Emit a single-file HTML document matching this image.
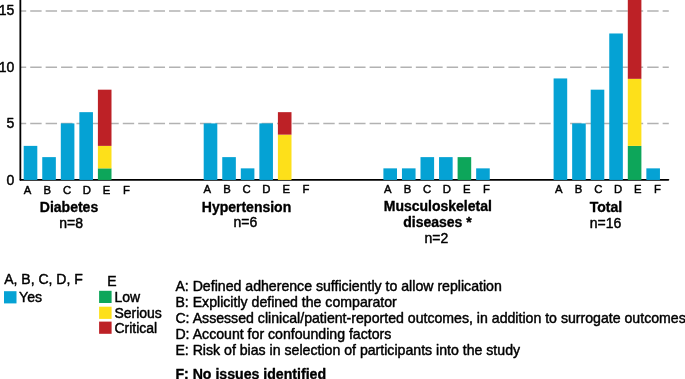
<!DOCTYPE html>
<html><head><meta charset="utf-8"><title>Figure</title>
<style>
html,body{margin:0;padding:0;background:#fff;}
body{width:685px;height:379px;overflow:hidden;}
svg{display:block;will-change:transform;}
text{font-family:"Liberation Sans",Arial,Helvetica,sans-serif;fill:#000;stroke:#000;stroke-width:0.45px;stroke-linejoin:round;}
.b{font-weight:bold;stroke-width:0.35px;}
.s{stroke-width:0.45px;}
</style></head><body>
<svg width="685" height="379" viewBox="0 0 685 379">
<rect width="685" height="379" fill="#fff"/>
<line x1="20.3" x2="668.8" y1="123.40" y2="123.40" stroke="#b2b2b2" stroke-width="1.5" stroke-dasharray="11.4 4.025" stroke-dashoffset="5.50"/>
<line x1="20.3" x2="668.8" y1="67.20" y2="67.20" stroke="#b2b2b2" stroke-width="1.5" stroke-dasharray="11.4 4.025" stroke-dashoffset="5.50"/>
<line x1="20.3" x2="668.8" y1="11.00" y2="11.00" stroke="#b2b2b2" stroke-width="1.5" stroke-dasharray="11.4 4.025" stroke-dashoffset="5.50"/>
<line x1="20.35" x2="20.35" y1="-2" y2="179.85" stroke="#000" stroke-width="1.8" stroke-linecap="round"/>
<line x1="20.35" x2="668.5" y1="179.85" y2="179.85" stroke="#000" stroke-width="1.6" stroke-linecap="round"/>
<rect x="23.70" y="145.88" width="13.6" height="34.07" fill="#05a2d4"/>
<rect x="42.25" y="157.12" width="13.6" height="22.83" fill="#05a2d4"/>
<rect x="60.80" y="123.40" width="13.6" height="56.55" fill="#05a2d4"/>
<rect x="79.35" y="112.16" width="13.6" height="67.79" fill="#05a2d4"/>
<rect x="97.90" y="168.36" width="13.6" height="11.59" fill="#0da65a"/>
<rect x="97.90" y="145.88" width="13.6" height="22.48" fill="#fde01a"/>
<rect x="97.90" y="89.68" width="13.6" height="56.20" fill="#bd2126"/>
<rect x="203.70" y="123.40" width="13.6" height="56.55" fill="#05a2d4"/>
<rect x="222.25" y="157.12" width="13.6" height="22.83" fill="#05a2d4"/>
<rect x="240.80" y="168.36" width="13.6" height="11.59" fill="#05a2d4"/>
<rect x="259.35" y="123.40" width="13.6" height="56.55" fill="#05a2d4"/>
<rect x="277.90" y="134.64" width="13.6" height="45.31" fill="#fde01a"/>
<rect x="277.90" y="112.16" width="13.6" height="22.48" fill="#bd2126"/>
<rect x="383.40" y="168.36" width="13.6" height="11.59" fill="#05a2d4"/>
<rect x="401.95" y="168.36" width="13.6" height="11.59" fill="#05a2d4"/>
<rect x="420.50" y="157.12" width="13.6" height="22.83" fill="#05a2d4"/>
<rect x="439.05" y="157.12" width="13.6" height="22.83" fill="#05a2d4"/>
<rect x="457.60" y="157.12" width="13.6" height="22.83" fill="#0da65a"/>
<rect x="476.15" y="168.36" width="13.6" height="11.59" fill="#05a2d4"/>
<rect x="553.60" y="78.44" width="13.6" height="101.51" fill="#05a2d4"/>
<rect x="572.15" y="123.40" width="13.6" height="56.55" fill="#05a2d4"/>
<rect x="590.70" y="89.68" width="13.6" height="90.27" fill="#05a2d4"/>
<rect x="609.25" y="33.48" width="13.6" height="146.47" fill="#05a2d4"/>
<rect x="627.80" y="145.88" width="13.6" height="34.07" fill="#0da65a"/>
<rect x="627.80" y="78.83" width="13.6" height="67.05" fill="#fde01a"/>
<rect x="627.80" y="-0.24" width="13.6" height="79.07" fill="#bd2126"/>
<rect x="646.35" y="168.36" width="13.6" height="11.59" fill="#05a2d4"/>
<text x="14.3" y="185" font-size="14" text-anchor="end">0</text>
<text x="14.3" y="128" font-size="14" text-anchor="end">5</text>
<text x="14.3" y="72" font-size="14" text-anchor="end">10</text>
<text x="14.3" y="15" font-size="14" text-anchor="end">15</text>
<text x="27.60" y="194.00" font-size="11.3" text-anchor="middle" class="s">A</text>
<text x="47.35" y="194.00" font-size="11.3" text-anchor="middle" class="s">B</text>
<text x="67.10" y="194.00" font-size="11.3" text-anchor="middle" class="s">C</text>
<text x="86.85" y="194.00" font-size="11.3" text-anchor="middle" class="s">D</text>
<text x="106.60" y="194.00" font-size="11.3" text-anchor="middle" class="s">E</text>
<text x="126.35" y="194.00" font-size="11.3" text-anchor="middle" class="s">F</text>
<text x="207.20" y="193.00" font-size="11.3" text-anchor="middle" class="s">A</text>
<text x="226.95" y="193.00" font-size="11.3" text-anchor="middle" class="s">B</text>
<text x="246.70" y="193.00" font-size="11.3" text-anchor="middle" class="s">C</text>
<text x="266.45" y="193.00" font-size="11.3" text-anchor="middle" class="s">D</text>
<text x="286.20" y="193.00" font-size="11.3" text-anchor="middle" class="s">E</text>
<text x="305.95" y="193.00" font-size="11.3" text-anchor="middle" class="s">F</text>
<text x="387.70" y="193.00" font-size="11.3" text-anchor="middle" class="s">A</text>
<text x="407.45" y="193.00" font-size="11.3" text-anchor="middle" class="s">B</text>
<text x="427.20" y="193.00" font-size="11.3" text-anchor="middle" class="s">C</text>
<text x="446.95" y="193.00" font-size="11.3" text-anchor="middle" class="s">D</text>
<text x="466.70" y="193.00" font-size="11.3" text-anchor="middle" class="s">E</text>
<text x="486.45" y="193.00" font-size="11.3" text-anchor="middle" class="s">F</text>
<text x="558.80" y="193.00" font-size="11.3" text-anchor="middle" class="s">A</text>
<text x="578.55" y="193.00" font-size="11.3" text-anchor="middle" class="s">B</text>
<text x="598.30" y="193.00" font-size="11.3" text-anchor="middle" class="s">C</text>
<text x="618.05" y="193.00" font-size="11.3" text-anchor="middle" class="s">D</text>
<text x="637.80" y="193.00" font-size="11.3" text-anchor="middle" class="s">E</text>
<text x="657.55" y="193.00" font-size="11.3" text-anchor="middle" class="s">F</text>
<text x="69.0" y="212" font-size="14" text-anchor="middle" class="b">Diabetes</text>
<text x="71.1" y="228" font-size="14" text-anchor="middle">n=8</text>
<text x="246.5" y="212" font-size="14" text-anchor="middle" class="b">Hypertension</text>
<text x="245.3" y="227" font-size="14" text-anchor="middle">n=6</text>
<text x="437.8" y="211" font-size="14" text-anchor="middle" class="b">Musculoskeletal</text>
<text x="437.5" y="227" font-size="14" text-anchor="middle" class="b">diseases *</text>
<text x="436.3" y="243" font-size="14" text-anchor="middle">n=2</text>
<text x="606" y="212" font-size="14" text-anchor="middle" class="b">Total</text>
<text x="605.6" y="228" font-size="14" text-anchor="middle">n=16</text>
<text x="4.2" y="284" font-size="14" text-anchor="start">A, B, C, D, F</text>
<rect x="4.0" y="291.2" width="12.5" height="12.2" fill="#05a2d4"/>
<text x="19.1" y="302" font-size="14" text-anchor="start">Yes</text>
<text x="107.3" y="286" font-size="14" text-anchor="start">E</text>
<rect x="99.1" y="290.8" width="12.5" height="12.2" fill="#0da65a"/>
<text x="114.4" y="302" font-size="14" text-anchor="start">Low</text>
<rect x="99.1" y="306.7" width="12.5" height="12.2" fill="#fde01a"/>
<text x="114.4" y="318" font-size="14" text-anchor="start">Serious</text>
<rect x="99.1" y="321.6" width="12.5" height="12.2" fill="#bd2126"/>
<text x="114.4" y="333" font-size="14" text-anchor="start">Critical</text>
<text x="175.4" y="291" font-size="14.13" text-anchor="start">A: Defined adherence sufficiently to allow replication</text>
<text x="175.4" y="307" font-size="14.13" text-anchor="start">B: Explicitly defined the comparator</text>
<text x="175.4" y="323" font-size="14.13" text-anchor="start">C: Assessed clinical/patient-reported outcomes, in addition to surrogate outcomes</text>
<text x="175.4" y="339" font-size="14.13" text-anchor="start">D: Account for confounding factors</text>
<text x="175.4" y="355" font-size="14.13" text-anchor="start">E: Risk of bias in selection of participants into the study</text>
<text x="175.4" y="379" font-size="14.13" text-anchor="start" class="b">F: No issues identified</text>
</svg>
</body></html>
